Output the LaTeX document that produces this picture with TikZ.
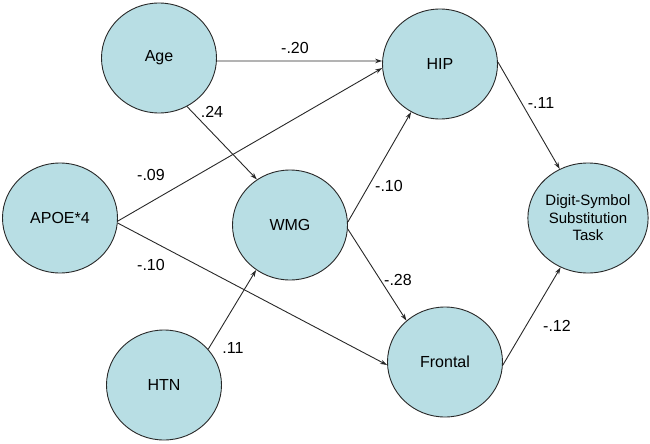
\documentclass[tikz,border=0pt]{standalone}
\usepackage{fontspec}
\setmainfont{Liberation Sans}
\usetikzlibrary{shapes.geometric,arrows.meta}
\definecolor{nodefill}{RGB}{184,222,228}
\definecolor{linecol}{RGB}{40,40,40}
\tikzset{
  var/.style={ellipse, draw=linecol, line width=0.9pt, fill=nodefill,
    minimum width=115pt, minimum height=110pt, inner sep=0pt,
    font=\fontsize{16}{19}\selectfont, align=center},
  path/.style={draw=linecol, line width=0.9pt, -{Stealth[length=7pt,width=4.5pt]}},
  coef/.style={font=\fontsize{16}{19}\selectfont, inner sep=0pt}
}
\begin{document}
\begin{tikzpicture}[x=1pt,y=-1pt]
\useasboundingbox (0,0) rectangle (650,444);
\node[var] (age) at (159,58) {Age};
\node[var] (hip) at (440,64) {HIP};
\node[var] (apoe) at (60,218) {APOE*4};
\node[var] (wmg) at (290,225) {WMG};
\node[var, font=\fontsize{15}{17.5}\selectfont] (dst) at (588,218) {Digit-Symbol\\Substitution\\Task};
\node[var] (htn) at (164,385) {HTN};
\node[var] (frontal) at (445,362) {Frontal};

\draw[path] (age.-3) -- (hip.177);
\draw[path] (age.-60) -- (wmg.126);
\draw[path] (apoe.-3) -- (hip.184);
\draw[path] (apoe.-5) -- (frontal.183);
\draw[path] (htn.39) -- (wmg.233);
\draw[path] (wmg.3) -- (hip.239);
\draw[path] (wmg.-4) -- (frontal.133);
\draw[path] (hip.2) -- (dst.120);
\draw[path] (frontal.-3) -- (dst.241);

\node[coef] (l1) at (295,48) {-.20};
\node[coef] (l2) at (212,112) {.24};
\node[coef] (l3) at (151,175) {-.09};
\node[coef] (l4) at (151,265) {-.10};
\node[coef] (l5) at (233,348) {.11};
\node[coef] (l6) at (389,186) {-.10};
\node[coef] (l7) at (398,280) {-.28};
\node[coef] (l8) at (541,103) {-.11};
\node[coef] (l9) at (557,326) {-.12};
\end{tikzpicture}
\end{document}
